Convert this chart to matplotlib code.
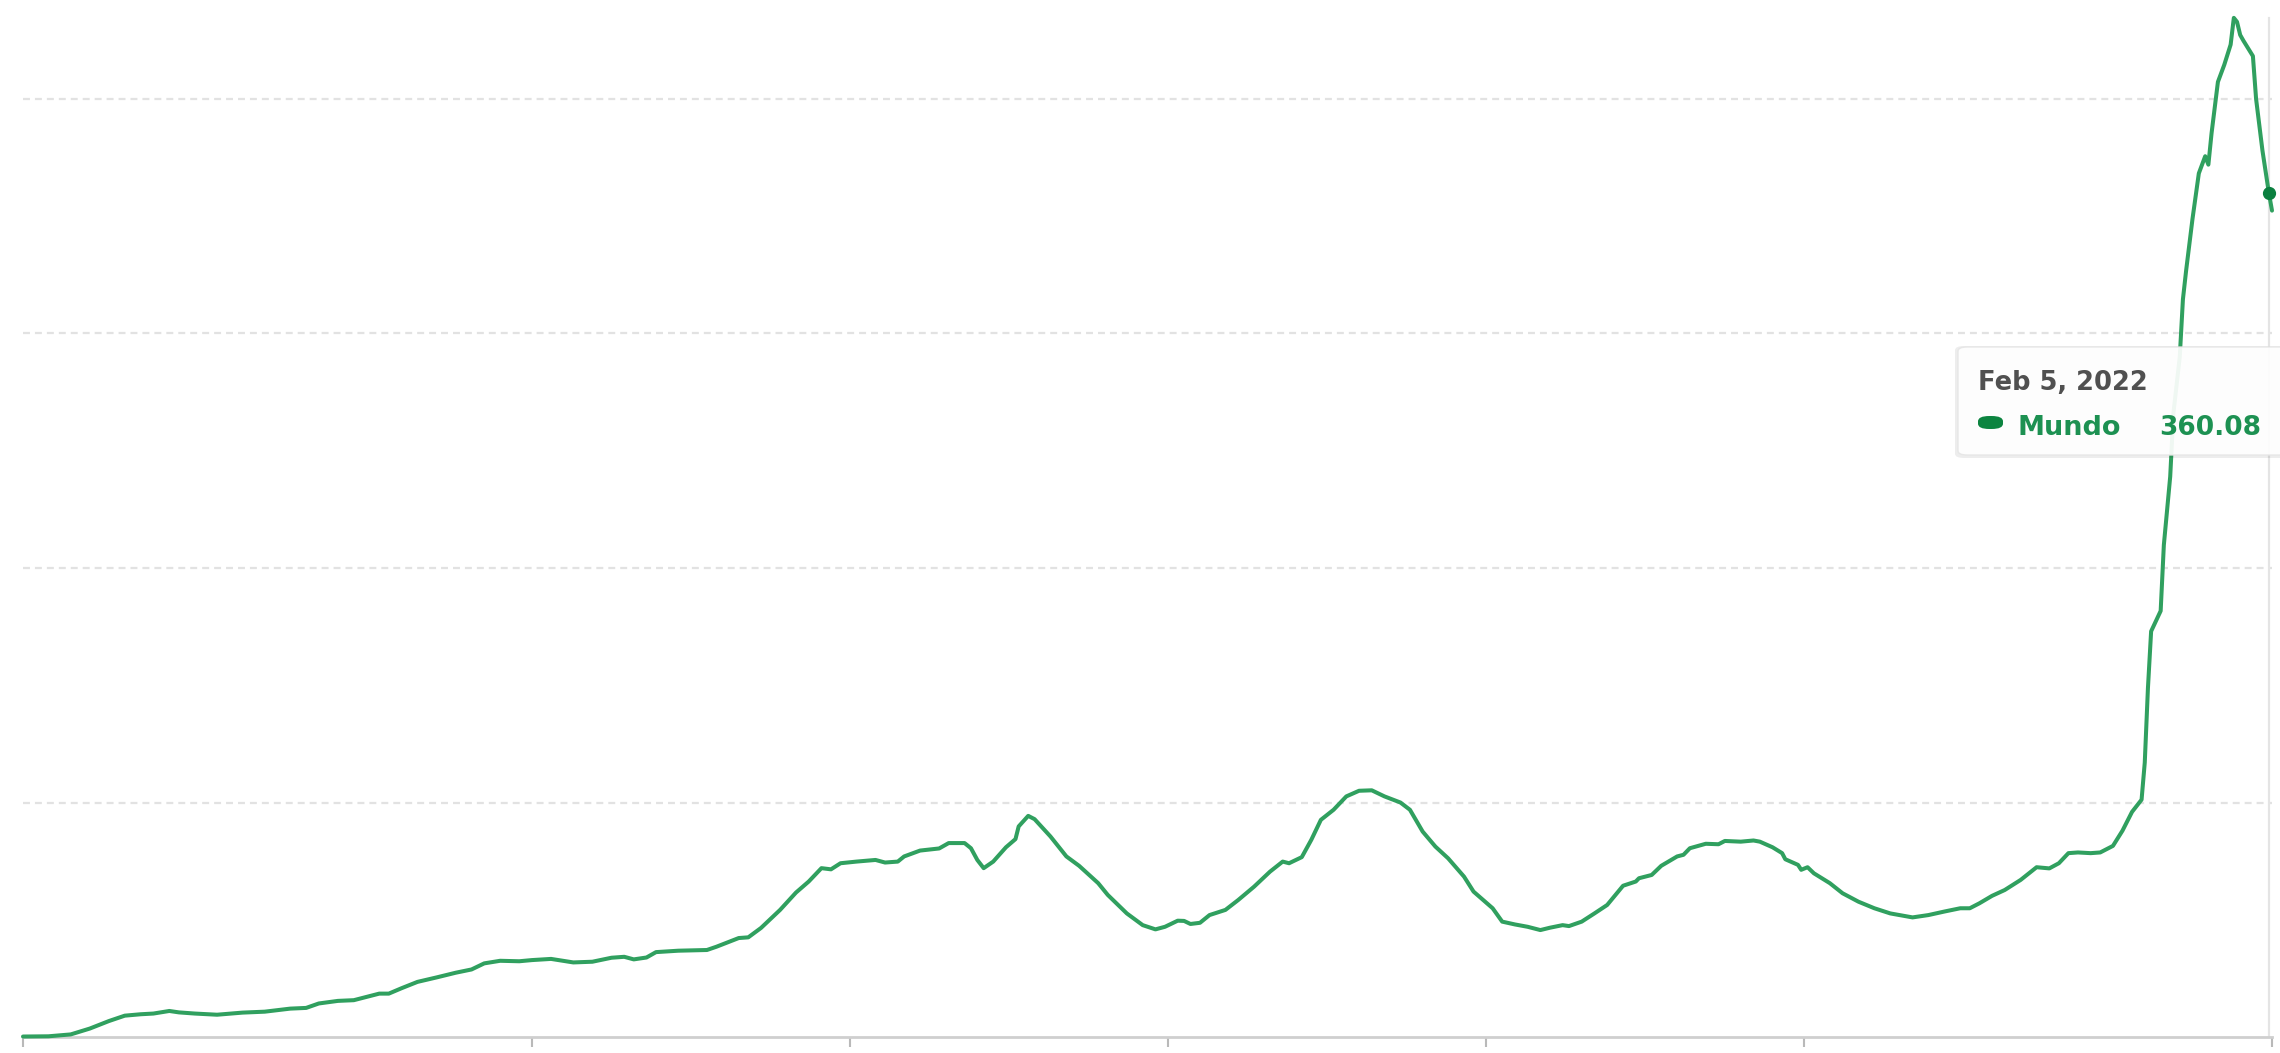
import numpy as np
import matplotlib
matplotlib.use("Agg")
import matplotlib.pyplot as plt
from matplotlib.patches import FancyBboxPatch

# ---- data: daily new confirmed cases per million (7-day avg), world ----
epoch = np.datetime64("2020-01-21")          # day 0 of the time axis
days = [40, 48, 55, 61, 67, 72, 77, 81, 86, 89, 94, 101, 109, 116, 124, 129,
        133, 139, 144, 150, 152, 155, 159, 164, 170, 176, 181, 185, 190, 196,
        200, 206, 213, 219, 225, 229, 232, 236, 239, 246, 255, 258, 265, 268,
        272, 278, 283, 287, 291, 294, 297, 302, 308, 311, 315, 317, 322, 328,
        331, 336, 338, 340, 342, 345, 349, 352, 353, 356, 358, 363, 368, 372,
        378, 381, 387, 392, 396, 399, 403, 405, 407, 410, 413, 418, 422, 427,
        432, 436, 438, 442, 445, 448, 452, 456, 460, 464, 468, 473, 476, 480,
        484, 488, 493, 496, 502, 505, 509, 513, 517, 520, 524, 526, 530, 534,
        538, 540, 543, 547, 548, 550, 552, 555, 560, 562, 564, 569, 573, 575,
        580, 584, 586, 590, 593, 594, 598, 599, 601, 603, 608, 612, 617, 622,
        627, 634, 639, 644, 649, 652, 655, 659, 663, 668, 673, 677, 680, 683,
        686, 690, 693, 697, 700, 703, 706, 707, 708, 709, 712, 713, 715, 716,
        718, 719, 720, 722, 724, 726, 727, 728, 730, 732, 734, 735, 736, 737,
        738, 741, 742, 744, 746, 747]
values = [0.2, 0.3, 1.1, 3.6, 6.8, 9.1, 9.7, 10.0, 11.1, 10.5, 10.0, 9.5, 10.4,
          10.8, 12.1, 12.4, 14.3, 15.4, 15.7, 17.8, 18.5, 18.5, 20.8, 23.5,
          25.4, 27.4, 28.8, 31.4, 32.5, 32.3, 32.8, 33.3, 31.8, 32.1, 33.8,
          34.2, 33.1, 33.9, 36.2, 36.8, 37.1, 38.5, 42.2, 42.5, 46.5, 54.2,
          61.6, 66.3, 72.0, 71.5, 74.1, 74.8, 75.5, 74.4, 74.8, 77.0, 79.5,
          80.4, 82.7, 82.7, 80.5, 75.5, 72.0, 74.8, 80.9, 84.4, 89.8, 94.3,
          92.9, 85.5, 77.0, 73.0, 65.6, 60.6, 52.7, 47.7, 45.9, 47.0, 49.6,
          49.5, 48.2, 48.7, 52.0, 54.2, 58.4, 64.1, 70.5, 74.8, 74.1, 76.7,
          84.1, 92.6, 96.9, 102.6, 105.0, 105.2, 102.6, 100.0, 96.9, 87.6,
          81.2, 76.2, 68.4, 62.0, 54.9, 49.2, 48.0, 47.0, 45.6, 46.6, 47.7,
          47.3, 49.2, 52.7, 56.3, 59.6, 64.5, 66.3, 67.7, 68.4, 69.1, 73.0,
          77.0, 77.7, 80.5, 82.4, 82.2, 83.6, 83.3, 83.8, 83.3, 80.9, 78.4,
          75.8, 73.4, 71.3, 72.4, 69.8, 65.6, 61.3, 57.7, 54.9, 52.7, 51.0,
          52.0, 53.5, 54.9, 54.9, 57.0, 60.2, 62.7, 67.0, 72.4, 71.9, 74.1,
          78.4, 78.7, 78.4, 78.7, 81.5, 88.0, 96.0, 101.2, 117.0, 148.8,
          173.0, 181.7, 209.8, 239.0, 265.9, 290.0, 314.6, 326.8, 348.8,
          368.3, 375.6, 372.0, 385.4, 407.3, 414.6, 423.2, 434.6, 432.9,
          427.3, 424.9, 418.3, 400.0, 378.0, 360.08, 352.4]
grid_values = [100, 200, 300, 400]
tick_days = [40, 200, 300, 400, 500, 600, 747]
x_range_days = [40, 747]
series_name = "Mundo"
hover_label = "Feb 5, 2022"
hover_day = 746
hover_value = 360.08

dates = epoch + np.array(days).astype("timedelta64[D]")
tick_dates = epoch + np.array(tick_days).astype("timedelta64[D]")
x_range = epoch + np.array(x_range_days).astype("timedelta64[D]")
hover_date = epoch + np.timedelta64(hover_day, "D")

W, H = 2280, 1053
fig = plt.figure(figsize=(W / 100, H / 100), dpi=100)
fig.patch.set_facecolor("white")

ax = fig.add_axes([23 / W, 16 / H, 2249 / W, 1037 / H])
ax.set_xlim(x_range[0], x_range[1])
ax.set_ylim(0, 1037 / 2.345)
ax.set_facecolor("none")

for s in ["top", "right", "left"]:
    ax.spines[s].set_visible(False)
ax.spines["bottom"].set_color("#cfcfcf")
ax.spines["bottom"].set_linewidth(2.0)

ax.set_xticks(tick_dates)
ax.set_xticklabels([])
ax.set_yticks([])
ax.tick_params(axis="x", length=7, width=1.5, color="#b9b9b9", direction="out")

for g in grid_values:
    ax.axhline(g, color="#e2e2e2", lw=1.6, linestyle=(0, (5.0 / 1.6, 3.6 / 1.6)),
               zorder=1)

# hover guide line
ax.plot([hover_date, hover_date], [0, max(values)], color="#e4e4e4", lw=1.6,
        zorder=1)

line_color = "#30a05f"
ax.plot(dates, values, color=line_color, lw=2.9, solid_joinstyle="round",
        solid_capstyle="round", zorder=3, clip_on=False)
ax.plot([hover_date], [hover_value], "o", ms=8.5, color="#0b7f3f", zorder=4,
        clip_on=False)

# ---- tooltip ----
def fx(px):
    return px / W

def fy(py_top):
    return (H - py_top) / H

shadow = FancyBboxPatch((fx(1955), fy(458)), fx(2300) - fx(1955),
                        fy(346) - fy(458),
                        boxstyle="round,pad=0,rounding_size=0.004",
                        transform=fig.transFigure, facecolor="#000000",
                        alpha=0.07, edgecolor="none", zorder=5)
fig.patches.append(shadow)
box = FancyBboxPatch((fx(1958), fy(455)), fx(2300) - fx(1958),
                     fy(347) - fy(455),
                     boxstyle="round,pad=0,rounding_size=0.004",
                     transform=fig.transFigure, facecolor="white", alpha=0.93,
                     edgecolor="#e6e6e6", lw=1, zorder=6)
fig.patches.append(box)

marker = FancyBboxPatch((fx(1978), fy(429)), fx(2003) - fx(1978),
                        fy(416) - fy(429),
                        boxstyle="round,pad=0,rounding_size=0.005",
                        transform=fig.transFigure, facecolor="#0c8440",
                        edgecolor="none", zorder=7)
fig.patches.append(marker)

fig.text(fx(1978), fy(390), hover_label, fontsize=18.5, fontweight="bold",
         color="#505050", family="DejaVu Sans", va="baseline", ha="left",
         zorder=8)
fig.text(fx(2018), fy(435), series_name, fontsize=19.5, fontweight="bold",
         color="#1d9152", family="DejaVu Sans", va="baseline", ha="left",
         zorder=8)
fig.text(fx(2261), fy(435), f"{hover_value:.2f}", fontsize=19, fontweight="bold",
         color="#1d9152", family="DejaVu Sans", va="baseline", ha="right",
         zorder=8)

fig.savefig("out.png", dpi=100, facecolor="white")
